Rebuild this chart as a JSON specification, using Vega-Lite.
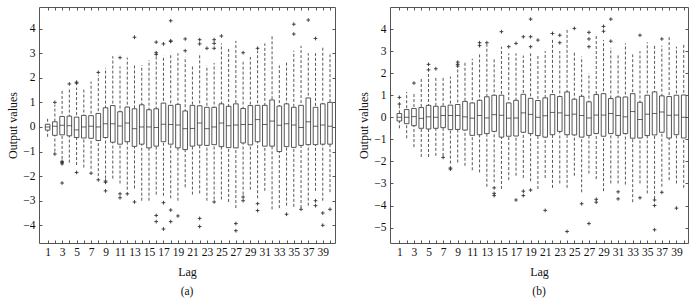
{
  "$schema": "https://vega.github.io/schema/vega-lite/v6.json",
  "padding": {"left": 5, "top": 6, "right": 0, "bottom": 0},
  "spacing": 20,
  "config": {
    "font": "Liberation Serif",
    "view": {"stroke": "#555", "strokeWidth": 1},
    "axis": {"domain": false, "grid": false, "tickSize": -3, "tickColor": "#444", "tickWidth": 0.9, "labelFont": "Liberation Serif", "labelFontSize": 11.5, "labelColor": "#111", "titleFont": "Liberation Serif", "titleFontSize": 12, "titleFontWeight": "normal", "titleColor": "#111", "labelOverlap": false, "labelFlush": false, "labelBound": false},
    "title": {"font": "Liberation Serif", "fontSize": 11.5, "fontWeight": "normal", "color": "#111"}
  },
  "datasets": {
    "boxA": [
      {"lag": 1, "lo": -0.4, "q1": -0.13, "med": 0, "q3": 0.11, "hi": 0.38},
      {"lag": 2, "lo": -1.0, "q1": -0.34, "med": 0.03, "q3": 0.21, "hi": 0.9},
      {"lag": 3, "lo": -1.3, "q1": -0.32, "med": 0.07, "q3": 0.43, "hi": 1.48},
      {"lag": 4, "lo": -1.45, "q1": -0.36, "med": 0.05, "q3": 0.44, "hi": 1.6},
      {"lag": 5, "lo": -1.55, "q1": -0.43, "med": -0.12, "q3": 0.4, "hi": 1.6},
      {"lag": 6, "lo": -1.65, "q1": -0.45, "med": 0, "q3": 0.47, "hi": 1.52},
      {"lag": 7, "lo": -1.7, "q1": -0.46, "med": 0.03, "q3": 0.46, "hi": 1.85},
      {"lag": 8, "lo": -2.0, "q1": -0.55, "med": 0, "q3": 0.55, "hi": 2.1},
      {"lag": 9, "lo": -2.1, "q1": -0.43, "med": 0.13, "q3": 0.78, "hi": 2.4},
      {"lag": 10, "lo": -2.1, "q1": -0.62, "med": 0.13, "q3": 0.87, "hi": 2.88},
      {"lag": 11, "lo": -2.3, "q1": -0.7, "med": 0.04, "q3": 0.62, "hi": 2.46},
      {"lag": 12, "lo": -2.55, "q1": -0.6, "med": 0.16, "q3": 0.81, "hi": 2.82},
      {"lag": 13, "lo": -2.5, "q1": -0.79, "med": -0.07, "q3": 0.74, "hi": 2.5},
      {"lag": 14, "lo": -3.0, "q1": -0.7, "med": 0, "q3": 0.9, "hi": 2.52},
      {"lag": 15, "lo": -3.0, "q1": -0.85, "med": 0, "q3": 0.7, "hi": 2.72},
      {"lag": 16, "lo": -2.75, "q1": -0.78, "med": -0.02, "q3": 0.74, "hi": 2.9},
      {"lag": 17, "lo": -2.8, "q1": -0.6, "med": 0.11, "q3": 0.97, "hi": 2.9},
      {"lag": 18, "lo": -2.9, "q1": -0.7, "med": 0.1, "q3": 0.88, "hi": 2.95},
      {"lag": 19, "lo": -3.0, "q1": -0.85, "med": 0.08, "q3": 0.92, "hi": 3.0},
      {"lag": 20, "lo": -2.45, "q1": -0.92, "med": -0.07, "q3": 0.65, "hi": 2.85},
      {"lag": 21, "lo": -2.75, "q1": -0.78, "med": -0.06, "q3": 0.88, "hi": 2.5},
      {"lag": 22, "lo": -2.7, "q1": -0.74, "med": 0.16, "q3": 0.86, "hi": 3.0},
      {"lag": 23, "lo": -3.0, "q1": -0.75, "med": -0.07, "q3": 0.8, "hi": 2.5},
      {"lag": 24, "lo": -2.95, "q1": -0.72, "med": 0, "q3": 0.8, "hi": 2.6},
      {"lag": 25, "lo": -2.95, "q1": -0.8, "med": 0.16, "q3": 0.94, "hi": 3.4},
      {"lag": 26, "lo": -3.05, "q1": -0.84, "med": 0.05, "q3": 0.84, "hi": 3.2},
      {"lag": 27, "lo": -3.3, "q1": -0.85, "med": 0.08, "q3": 0.94, "hi": 3.5},
      {"lag": 28, "lo": -2.75, "q1": -0.65, "med": 0.1, "q3": 0.75, "hi": 2.65},
      {"lag": 29, "lo": -2.55, "q1": -0.73, "med": 0.1, "q3": 0.87, "hi": 2.85},
      {"lag": 30, "lo": -2.9, "q1": -0.6, "med": 0.3, "q3": 0.88, "hi": 3.1},
      {"lag": 31, "lo": -2.6, "q1": -0.78, "med": 0.1, "q3": 0.88, "hi": 3.4},
      {"lag": 32, "lo": -3.35, "q1": -0.78, "med": 0.24, "q3": 1.1, "hi": 3.7},
      {"lag": 33, "lo": -3.3, "q1": -1.0, "med": 0.07, "q3": 0.85, "hi": 2.5},
      {"lag": 34, "lo": -3.2, "q1": -0.8, "med": 0.13, "q3": 0.94, "hi": 2.7},
      {"lag": 35, "lo": -3.25, "q1": -0.83, "med": 0.08, "q3": 0.8, "hi": 3.1},
      {"lag": 36, "lo": -3.3, "q1": -0.75, "med": -0.02, "q3": 0.88, "hi": 3.3},
      {"lag": 37, "lo": -3.2, "q1": -0.72, "med": 0.21, "q3": 1.18, "hi": 3.0},
      {"lag": 38, "lo": -2.6, "q1": -0.72, "med": 0.03, "q3": 0.8, "hi": 3.0},
      {"lag": 39, "lo": -3.0, "q1": -0.7, "med": 0.08, "q3": 0.94, "hi": 3.3},
      {"lag": 40, "lo": -2.65, "q1": -0.7, "med": 0.03, "q3": 1.0, "hi": 2.95}
    ],
    "outA": [
      {"lag": 2, "v": 1.0}, {"lag": 2, "v": -1.1},
      {"lag": 3, "v": -1.4}, {"lag": 3, "v": -1.45}, {"lag": 3, "v": -1.5}, {"lag": 3, "v": -2.28},
      {"lag": 4, "v": 1.75},
      {"lag": 5, "v": 1.78}, {"lag": 5, "v": 1.82}, {"lag": 5, "v": -1.85},
      {"lag": 7, "v": -1.88},
      {"lag": 8, "v": 2.22}, {"lag": 8, "v": -2.15},
      {"lag": 9, "v": -2.2}, {"lag": 9, "v": -2.25}, {"lag": 9, "v": -2.6},
      {"lag": 11, "v": 2.82}, {"lag": 11, "v": -2.72}, {"lag": 11, "v": -2.88},
      {"lag": 12, "v": -2.72},
      {"lag": 13, "v": 3.65}, {"lag": 13, "v": -3.05},
      {"lag": 16, "v": 2.95}, {"lag": 16, "v": 3.02}, {"lag": 16, "v": 3.45}, {"lag": 16, "v": -3.6}, {"lag": 16, "v": -3.85},
      {"lag": 17, "v": 3.38}, {"lag": 17, "v": -3.08}, {"lag": 17, "v": -4.15},
      {"lag": 18, "v": 3.48}, {"lag": 18, "v": 3.5}, {"lag": 18, "v": 4.32}, {"lag": 18, "v": -3.38}, {"lag": 18, "v": -3.85},
      {"lag": 19, "v": -3.62},
      {"lag": 20, "v": 3.1}, {"lag": 20, "v": 3.58},
      {"lag": 22, "v": 3.38}, {"lag": 22, "v": 3.55}, {"lag": 22, "v": -3.72}, {"lag": 22, "v": -4.05},
      {"lag": 23, "v": 3.2},
      {"lag": 24, "v": 3.2}, {"lag": 24, "v": 3.4}, {"lag": 24, "v": 3.55}, {"lag": 24, "v": -3.05},
      {"lag": 25, "v": 3.7},
      {"lag": 27, "v": -3.93}, {"lag": 27, "v": -4.22},
      {"lag": 28, "v": 3.02}, {"lag": 28, "v": -2.85}, {"lag": 28, "v": -3.0},
      {"lag": 30, "v": 3.2}, {"lag": 30, "v": -3.12}, {"lag": 30, "v": -3.4},
      {"lag": 34, "v": -3.55},
      {"lag": 35, "v": 3.78}, {"lag": 35, "v": 4.18},
      {"lag": 36, "v": -3.35},
      {"lag": 37, "v": 4.35},
      {"lag": 38, "v": 3.6}, {"lag": 38, "v": -3.0}, {"lag": 38, "v": -3.2},
      {"lag": 39, "v": -3.5}, {"lag": 39, "v": -4.0},
      {"lag": 40, "v": -3.35}
    ],
    "boxB": [
      {"lag": 1, "lo": -0.5, "q1": -0.17, "med": 0, "q3": 0.17, "hi": 0.5},
      {"lag": 2, "lo": -0.95, "q1": -0.29, "med": 0, "q3": 0.35, "hi": 1.15},
      {"lag": 3, "lo": -1.35, "q1": -0.38, "med": 0.03, "q3": 0.4, "hi": 1.05},
      {"lag": 4, "lo": -1.8, "q1": -0.5, "med": -0.05, "q3": 0.44, "hi": 1.8},
      {"lag": 5, "lo": -1.8, "q1": -0.53, "med": 0.02, "q3": 0.54, "hi": 2.0},
      {"lag": 6, "lo": -1.75, "q1": -0.5, "med": 0, "q3": 0.5, "hi": 1.85},
      {"lag": 7, "lo": -1.75, "q1": -0.47, "med": 0.08, "q3": 0.5, "hi": 1.8},
      {"lag": 8, "lo": -2.1, "q1": -0.56, "med": 0.08, "q3": 0.55, "hi": 1.85},
      {"lag": 9, "lo": -2.05, "q1": -0.55, "med": 0.08, "q3": 0.58, "hi": 2.2},
      {"lag": 10, "lo": -2.2, "q1": -0.58, "med": 0.02, "q3": 0.72, "hi": 2.55},
      {"lag": 11, "lo": -2.4, "q1": -0.82, "med": -0.04, "q3": 0.65, "hi": 2.65},
      {"lag": 12, "lo": -2.5, "q1": -0.79, "med": 0.08, "q3": 0.77, "hi": 2.9},
      {"lag": 13, "lo": -3.15, "q1": -0.74, "med": -0.03, "q3": 0.93, "hi": 3.3},
      {"lag": 14, "lo": -2.95, "q1": -0.64, "med": 0.12, "q3": 1.0, "hi": 2.65},
      {"lag": 15, "lo": -3.25, "q1": -0.9, "med": 0.09, "q3": 1.0, "hi": 3.2},
      {"lag": 16, "lo": -2.85, "q1": -0.86, "med": -0.04, "q3": 0.65, "hi": 2.9},
      {"lag": 17, "lo": -2.65, "q1": -0.85, "med": -0.03, "q3": 0.77, "hi": 2.9},
      {"lag": 18, "lo": -2.75, "q1": -0.68, "med": 0.2, "q3": 1.04, "hi": 2.8},
      {"lag": 19, "lo": -2.9, "q1": -0.74, "med": 0.13, "q3": 0.86, "hi": 2.9},
      {"lag": 20, "lo": -3.25, "q1": -0.83, "med": 0, "q3": 0.76, "hi": 2.85},
      {"lag": 21, "lo": -2.75, "q1": -0.9, "med": 0.07, "q3": 0.88, "hi": 3.0},
      {"lag": 22, "lo": -3.2, "q1": -0.79, "med": 0.22, "q3": 1.03, "hi": 3.6},
      {"lag": 23, "lo": -3.0, "q1": -0.64, "med": 0.2, "q3": 0.94, "hi": 3.0},
      {"lag": 24, "lo": -3.2, "q1": -0.79, "med": 0.09, "q3": 1.15, "hi": 4.0},
      {"lag": 25, "lo": -2.65, "q1": -0.8, "med": 0.14, "q3": 0.82, "hi": 2.95},
      {"lag": 26, "lo": -3.4, "q1": -0.9, "med": 0.08, "q3": 0.95, "hi": 2.75},
      {"lag": 27, "lo": -2.55, "q1": -0.82, "med": -0.03, "q3": 0.7, "hi": 2.0},
      {"lag": 28, "lo": -2.8, "q1": -0.74, "med": 0.1, "q3": 1.03, "hi": 3.7},
      {"lag": 29, "lo": -3.35, "q1": -0.86, "med": 0.1, "q3": 1.07, "hi": 3.5},
      {"lag": 30, "lo": -3.0, "q1": -0.74, "med": 0.17, "q3": 0.85, "hi": 3.15},
      {"lag": 31, "lo": -3.0, "q1": -0.82, "med": 0.08, "q3": 0.92, "hi": 2.85},
      {"lag": 32, "lo": -3.05, "q1": -0.74, "med": 0.02, "q3": 0.92, "hi": 3.35},
      {"lag": 33, "lo": -3.85, "q1": -0.95, "med": 0.26, "q3": 1.07, "hi": 2.85},
      {"lag": 34, "lo": -3.0, "q1": -0.94, "med": -0.1, "q3": 0.68, "hi": 3.0},
      {"lag": 35, "lo": -3.45, "q1": -0.83, "med": 0.14, "q3": 1.0, "hi": 3.4},
      {"lag": 36, "lo": -3.7, "q1": -0.8, "med": 0.17, "q3": 1.15, "hi": 3.3},
      {"lag": 37, "lo": -3.15, "q1": -0.68, "med": 0.24, "q3": 0.97, "hi": 3.25},
      {"lag": 38, "lo": -2.85, "q1": -0.94, "med": 0.09, "q3": 0.94, "hi": 3.65},
      {"lag": 39, "lo": -3.0, "q1": -0.79, "med": 0.1, "q3": 1.0, "hi": 3.2},
      {"lag": 40, "lo": -3.2, "q1": -0.94, "med": 0, "q3": 1.01, "hi": 3.35}
    ],
    "outB": [
      {"lag": 1, "v": 0.6}, {"lag": 1, "v": 0.9},
      {"lag": 3, "v": 1.55},
      {"lag": 5, "v": 2.15}, {"lag": 5, "v": 2.4},
      {"lag": 6, "v": 2.2},
      {"lag": 7, "v": -1.82},
      {"lag": 8, "v": -2.3}, {"lag": 8, "v": -2.35},
      {"lag": 9, "v": 2.32}, {"lag": 9, "v": 2.4}, {"lag": 9, "v": 2.5},
      {"lag": 12, "v": 3.25}, {"lag": 12, "v": 3.38},
      {"lag": 13, "v": 3.38},
      {"lag": 14, "v": -3.2}, {"lag": 14, "v": -3.45}, {"lag": 14, "v": -3.55},
      {"lag": 15, "v": 3.88},
      {"lag": 16, "v": 3.2},
      {"lag": 17, "v": 3.35}, {"lag": 17, "v": -3.75},
      {"lag": 18, "v": 3.65}, {"lag": 18, "v": -3.35}, {"lag": 18, "v": -3.55},
      {"lag": 19, "v": 3.2}, {"lag": 19, "v": 3.65}, {"lag": 19, "v": 4.45}, {"lag": 19, "v": -3.3},
      {"lag": 20, "v": 3.5},
      {"lag": 21, "v": -4.22},
      {"lag": 22, "v": 3.8},
      {"lag": 23, "v": 3.38}, {"lag": 23, "v": 3.72},
      {"lag": 24, "v": -5.18},
      {"lag": 25, "v": 4.03},
      {"lag": 26, "v": -3.92},
      {"lag": 27, "v": 3.2}, {"lag": 27, "v": 3.55}, {"lag": 27, "v": 3.85}, {"lag": 27, "v": -4.82},
      {"lag": 28, "v": -3.72}, {"lag": 28, "v": -3.85},
      {"lag": 29, "v": 3.9}, {"lag": 29, "v": 4.12},
      {"lag": 30, "v": 3.45}, {"lag": 30, "v": 4.45},
      {"lag": 31, "v": -3.38}, {"lag": 31, "v": -3.7},
      {"lag": 34, "v": 3.72}, {"lag": 34, "v": -3.65},
      {"lag": 36, "v": -3.75}, {"lag": 36, "v": -4.0}, {"lag": 36, "v": -5.1},
      {"lag": 37, "v": 3.55}, {"lag": 37, "v": -3.4},
      {"lag": 39, "v": -4.12}
    ]
  },
  "hconcat": [
    {
      "width": 296, "height": 236,
      "title": {"text": "(a)", "orient": "bottom", "offset": 9},
      "resolve": {"axis": {"x": "independent", "y": "independent"}},
      "layer": [
        {
          "data": {"name": "boxA"},
          "mark": {"type": "rule", "strokeDash": [3, 2], "color": "#444", "strokeWidth": 0.9, "clip": true},
          "encoding": {
            "x": {"field": "lag", "type": "quantitative", "scale": {"domain": [0.5, 40], "nice": false, "zero": false},
                  "axis": {"orient": "bottom", "values": [1,2,3,4,5,6,7,8,9,10,11,12,13,14,15,16,17,18,19,20,21,22,23,24,25,26,27,28,29,30,31,32,33,34,35,36,37,38,39,40], "labelExpr": "datum.value % 2 == 1 ? datum.label : ''", "title": "Lag", "labelPadding": 6.5, "titlePadding": 8}},
            "y": {"field": "lo", "type": "quantitative", "scale": {"domain": [-4.72, 4.88], "nice": false, "zero": false},
                  "axis": {"orient": "left", "values": [-4,-3,-2,-1,0,1,2,3,4], "title": "Output values", "labelPadding": 7, "titleX": -27, "titleBaseline": "middle"}},
            "y2": {"field": "hi"}
          }
        },
        {
          "data": {"name": "boxA"},
          "mark": {"type": "bar", "width": 4.6, "fill": "white", "stroke": "#444", "strokeWidth": 0.9, "clip": true},
          "encoding": {
            "x": {"field": "lag", "type": "quantitative", "axis": {"orient": "top", "values": [1,2,3,4,5,6,7,8,9,10,11,12,13,14,15,16,17,18,19,20,21,22,23,24,25,26,27,28,29,30,31,32,33,34,35,36,37,38,39,40], "labels": false, "title": null}},
            "y": {"field": "q1", "type": "quantitative", "axis": {"orient": "right", "values": [-4,-3,-2,-1,0,1,2,3,4], "labels": false, "title": null}},
            "y2": {"field": "q3"}
          }
        },
        {
          "data": {"name": "boxA"},
          "mark": {"type": "tick", "orient": "horizontal", "size": 4.6, "thickness": 1, "color": "#222", "clip": true},
          "encoding": {
            "x": {"field": "lag", "type": "quantitative", "axis": null},
            "y": {"field": "med", "type": "quantitative", "axis": null}
          }
        },
        {
          "data": {"name": "outA"},
          "mark": {"type": "point", "shape": "M-1,0L1,0M0,-1L0,1", "filled": false, "size": 14, "stroke": "#333", "strokeWidth": 0.9, "opacity": 1, "clip": true},
          "encoding": {
            "x": {"field": "lag", "type": "quantitative", "axis": null},
            "y": {"field": "v", "type": "quantitative", "axis": null}
          }
        }
      ]
    },
    {
      "width": 298, "height": 236,
      "title": {"text": "(b)", "orient": "bottom", "offset": 9},
      "resolve": {"axis": {"x": "independent", "y": "independent"}},
      "layer": [
        {
          "data": {"name": "boxB"},
          "mark": {"type": "rule", "strokeDash": [3, 2], "color": "#444", "strokeWidth": 0.9, "clip": true},
          "encoding": {
            "x": {"field": "lag", "type": "quantitative", "scale": {"domain": [0.4, 39.9], "nice": false, "zero": false},
                  "axis": {"orient": "bottom", "values": [1,2,3,4,5,6,7,8,9,10,11,12,13,14,15,16,17,18,19,20,21,22,23,24,25,26,27,28,29,30,31,32,33,34,35,36,37,38,39,40], "labelExpr": "datum.value % 2 == 1 ? datum.label : ''", "title": "Lag", "labelPadding": 6.5, "titlePadding": 8}},
            "y": {"field": "lo", "type": "quantitative", "scale": {"domain": [-5.7, 5.0], "nice": false, "zero": false},
                  "axis": {"orient": "left", "values": [-5,-4,-3,-2,-1,0,1,2,3,4], "title": "Output values", "labelPadding": 7, "titleX": -27, "titleBaseline": "middle"}},
            "y2": {"field": "hi"}
          }
        },
        {
          "data": {"name": "boxB"},
          "mark": {"type": "bar", "width": 4.6, "fill": "white", "stroke": "#444", "strokeWidth": 0.9, "clip": true},
          "encoding": {
            "x": {"field": "lag", "type": "quantitative", "axis": {"orient": "top", "values": [1,2,3,4,5,6,7,8,9,10,11,12,13,14,15,16,17,18,19,20,21,22,23,24,25,26,27,28,29,30,31,32,33,34,35,36,37,38,39,40], "labels": false, "title": null}},
            "y": {"field": "q1", "type": "quantitative", "axis": {"orient": "right", "values": [-5,-4,-3,-2,-1,0,1,2,3,4], "labels": false, "title": null}},
            "y2": {"field": "q3"}
          }
        },
        {
          "data": {"name": "boxB"},
          "mark": {"type": "tick", "orient": "horizontal", "size": 4.6, "thickness": 1, "color": "#222", "clip": true},
          "encoding": {
            "x": {"field": "lag", "type": "quantitative", "axis": null},
            "y": {"field": "med", "type": "quantitative", "axis": null}
          }
        },
        {
          "data": {"name": "outB"},
          "mark": {"type": "point", "shape": "M-1,0L1,0M0,-1L0,1", "filled": false, "size": 14, "stroke": "#333", "strokeWidth": 0.9, "opacity": 1, "clip": true},
          "encoding": {
            "x": {"field": "lag", "type": "quantitative", "axis": null},
            "y": {"field": "v", "type": "quantitative", "axis": null}
          }
        }
      ]
    }
  ]
}
